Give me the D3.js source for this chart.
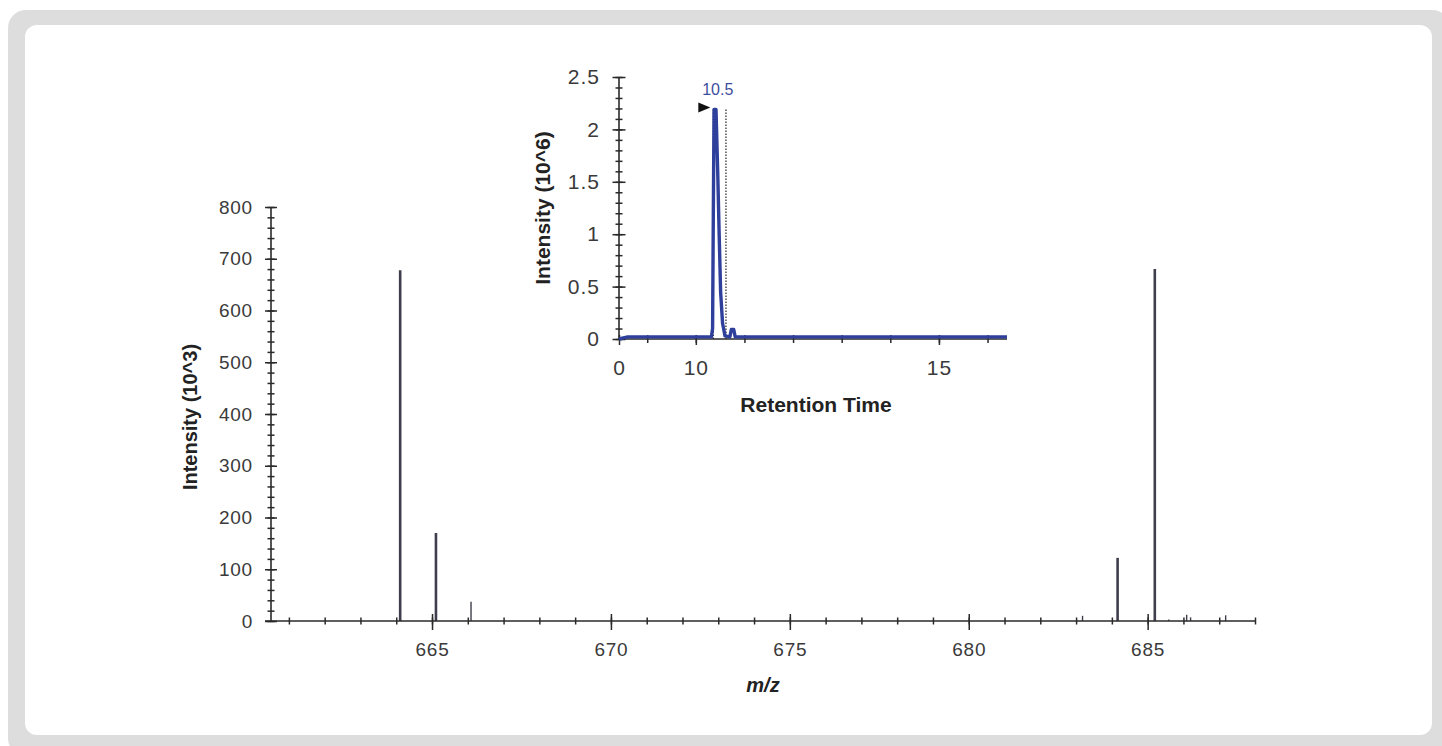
<!DOCTYPE html>
<html>
<head>
<meta charset="utf-8">
<script src="https://cdn.jsdelivr.net/npm/d3@7"></script>
<style>
  body { margin: 0; background: #fff; }
  text { font-family: Arial, "Liberation Sans", sans-serif; }
</style>
</head>
<body>
<div id="chart"></div>
<script>
// mass spectrum (m/z vs intensity, 10^3)
const mzValues    = [664.11, 665.11, 666.09, 683.18, 684.16, 685.20, 685.59, 686.09, 686.20, 687.18];
const mzIntensity = [678,    170,    37,     10,     122,    680,    3,      12,     7,      11];
const mainYTicks = [0, 100, 200, 300, 400, 500, 600, 700, 800];
const mainXTicks = [665, 670, 675, 680, 685];

// inset chromatogram (retention time vs intensity, 10^6)
const rtValues    = [8.42, 8.6, 10.32, 10.345, 10.36, 10.375, 10.415, 10.45, 10.48, 10.51, 10.55, 10.6, 10.7, 10.73, 10.78, 10.81, 16.4];
const rtIntensity = [0,    0.02, 0.02, 0.1,    1.2,   2.19,   2.19,   1.6,   1.0,   0.45,  0.15,  0.03, 0.02, 0.09,  0.09,  0.02,  0.02];
const insetYTicks = [0, 0.5, 1, 1.5, 2, 2.5];
const insetXTicks = [8.42, 10, 15];
const insetXLabels = ["0", "10", "15"];
const peakBounds = [10.36, 10.62];
const peakLabel = "10.5";

const W = 1442, H = 746;
const axisColor = "#2a2a2a", labelColor = "#3a3a3a";

const svg = d3.select("#chart").append("svg")
    .attr("width", W)
    .attr("height", H);

// frame
svg.append("rect").attr("x", 8).attr("y", 10).attr("width", W).attr("height", H)
    .attr("rx", 18).attr("fill", "#dddddd");
svg.append("rect").attr("x", 25).attr("y", 25).attr("width", 1407).attr("height", 710)
    .attr("rx", 12).attr("fill", "#ffffff");

// ---------- main spectrum ----------
const x = d3.scaleLinear().domain([660.5, 688]).range([271, 1255]);
const y = d3.scaleLinear().domain([0, 800]).range([621, 207]);

const main = svg.append("g");

// peaks
main.selectAll(".peak")
    .data(mzValues.map((d, i) => ({ mz: d, v: mzIntensity[i] })))
    .enter()
    .append("line")
    .attr("class", "peak")
    .attr("x1", d => x(d.mz)).attr("x2", d => x(d.mz))
    .attr("y1", y(0)).attr("y2", d => y(d.v))
    .attr("stroke", "#3e3e4c")
    .attr("stroke-width", d => d.v > 50 ? 2.6 : 1.4);

// y axis: minor then major
main.append("g")
    .attr("transform", `translate(${x(660.5)},0)`)
    .call(d3.axisLeft(y).tickValues(d3.range(0, 801, 20)).tickFormat(""))
    .call(g => g.select(".domain").remove())
    .call(g => g.selectAll(".tick line").attr("x1", 3.5).attr("x2", -3.5).attr("stroke", axisColor).attr("stroke-width", 1.5));

main.append("g")
    .attr("transform", `translate(${x(660.5)},0)`)
    .call(d3.axisLeft(y).tickValues(mainYTicks).tickSize(0).tickPadding(18))
    .call(g => g.select(".domain").remove())
    .call(g => g.selectAll(".tick line").attr("x1", 6).attr("x2", -6).attr("stroke", axisColor).attr("stroke-width", 1.5))
    .call(g => g.selectAll(".tick text").attr("font-size", "19px").attr("fill", labelColor).attr("letter-spacing", "0.8px"));

main.append("line")
    .attr("x1", x(660.5)).attr("x2", x(660.5))
    .attr("y1", y(0)).attr("y2", y(800))
    .attr("stroke", axisColor).attr("stroke-width", 1.6);

// x axis: minor then major
main.append("g")
    .attr("transform", `translate(0,${y(0)})`)
    .call(d3.axisBottom(x).tickValues(d3.range(661, 689, 1)).tickFormat(""))
    .call(g => g.select(".domain").remove())
    .call(g => g.selectAll(".tick line").attr("y1", -3.5).attr("y2", 3.5).attr("stroke", axisColor).attr("stroke-width", 1.5));

main.append("g")
    .attr("transform", `translate(0,${y(0)})`)
    .call(d3.axisBottom(x).tickValues(mainXTicks).tickSize(0).tickPadding(22))
    .call(g => g.select(".domain").remove())
    .call(g => g.selectAll(".tick line").attr("y1", -7).attr("y2", 9).attr("stroke", axisColor).attr("stroke-width", 1.5))
    .call(g => g.selectAll(".tick text").attr("font-size", "19px").attr("fill", labelColor).attr("letter-spacing", "0.8px"));

main.append("line")
    .attr("x1", x(660.5) - 6).attr("x2", x(688))
    .attr("y1", y(0)).attr("y2", y(0))
    .attr("stroke", axisColor).attr("stroke-width", 1.6);

main.append("text")
    .attr("transform", `translate(197,${(y(0) + y(800)) / 2 + 3}) rotate(-90)`)
    .attr("text-anchor", "middle")
    .attr("font-size", "20px")
    .attr("font-weight", "bold")
    .attr("fill", "#222")
    .text("Intensity (10^3)");

main.append("text")
    .attr("x", 763).attr("y", 692)
    .attr("text-anchor", "middle")
    .attr("font-size", "20px")
    .attr("font-weight", "bold")
    .attr("font-style", "italic")
    .attr("fill", "#222")
    .text("m/z");

// ---------- inset chromatogram ----------
const xi = d3.scaleLinear().domain([8.42, 16.4]).range([619, 1007]);
const yi = d3.scaleLinear().domain([0, 2.5]).range([339, 77]);

const inset = svg.append("g");

// y axis
inset.append("g")
    .attr("transform", `translate(${xi(8.42)},0)`)
    .call(d3.axisLeft(yi).tickValues(d3.range(0, 2.51, 0.1)).tickFormat(""))
    .call(g => g.select(".domain").remove())
    .call(g => g.selectAll(".tick line").attr("x1", 3.5).attr("x2", -3.5).attr("stroke", axisColor).attr("stroke-width", 1.5));

inset.append("g")
    .attr("transform", `translate(${xi(8.42)},0)`)
    .call(d3.axisLeft(yi).tickValues(insetYTicks).tickSize(0).tickPadding(19).tickFormat(d3.format("")))
    .call(g => g.select(".domain").remove())
    .call(g => g.selectAll(".tick line").attr("x1", 6.5).attr("x2", -6.5).attr("stroke", axisColor).attr("stroke-width", 1.5))
    .call(g => g.selectAll(".tick text").attr("font-size", "21px").attr("fill", labelColor).attr("letter-spacing", "1px"));

inset.append("line")
    .attr("x1", xi(8.42)).attr("x2", xi(8.42))
    .attr("y1", yi(0)).attr("y2", yi(2.5))
    .attr("stroke", axisColor).attr("stroke-width", 1.6);

// x axis
inset.append("g")
    .attr("transform", `translate(0,${yi(0)})`)
    .call(d3.axisBottom(xi).tickValues(d3.range(9, 16.5, 1)).tickFormat(""))
    .call(g => g.select(".domain").remove())
    .call(g => g.selectAll(".tick line").attr("y1", -4).attr("y2", 4).attr("stroke", axisColor).attr("stroke-width", 1.5));

inset.append("g")
    .attr("transform", `translate(0,${yi(0)})`)
    .call(d3.axisBottom(xi).tickValues(insetXTicks).tickSize(0).tickPadding(21)
        .tickFormat((d, i) => insetXLabels[i]))
    .call(g => g.select(".domain").remove())
    .call(g => g.selectAll(".tick line").attr("y1", -4).attr("y2", 6).attr("stroke", axisColor).attr("stroke-width", 1.5))
    .call(g => g.selectAll(".tick text").attr("font-size", "21px").attr("fill", labelColor).attr("letter-spacing", "1px"));

inset.append("line")
    .attr("x1", xi(8.42)).attr("x2", xi(16.4))
    .attr("y1", yi(0)).attr("y2", yi(0))
    .attr("stroke", axisColor).attr("stroke-width", 1.6);

// peak boundaries
inset.selectAll(".bound")
    .data(peakBounds)
    .enter()
    .append("line")
    .attr("class", "bound")
    .attr("x1", d => xi(d)).attr("x2", d => xi(d))
    .attr("y1", yi(2.19)).attr("y2", yi(0))
    .attr("stroke", "#222")
    .attr("stroke-width", 1.2)
    .attr("stroke-dasharray", "1.5,1.5");

// trace
const trace = rtValues.map((d, i) => [d, rtIntensity[i]]);
inset.append("path")
    .datum(trace)
    .attr("fill", "none")
    .attr("stroke", "#2f3f9c")
    .attr("stroke-width", 3.4)
    .attr("stroke-linejoin", "round")
    .attr("d", d3.line().x(d => xi(d[0])).y(d => yi(d[1])));

// apex marker and label
const mx = xi(peakBounds[0]) - 3, my = yi(2.19) - 2;
inset.append("path")
    .attr("d", `M${mx - 12},${my - 5}L${mx},${my}L${mx - 12},${my + 5}Z`)
    .attr("fill", "#111");

inset.append("text")
    .attr("x", xi(10.43) + 1).attr("y", yi(2.19) - 14)
    .attr("text-anchor", "middle")
    .attr("font-size", "16px")
    .attr("fill", "#3d4d9e")
    .text(peakLabel);

inset.append("text")
    .attr("transform", `translate(550,${(yi(0) + yi(2.5)) / 2}) rotate(-90)`)
    .attr("text-anchor", "middle")
    .attr("font-size", "21px")
    .attr("font-weight", "bold")
    .attr("fill", "#222")
    .text("Intensity (10^6)");

inset.append("text")
    .attr("x", 816).attr("y", 412)
    .attr("text-anchor", "middle")
    .attr("font-size", "21px")
    .attr("font-weight", "bold")
    .attr("fill", "#222")
    .text("Retention Time");
</script>
</body>
</html>
